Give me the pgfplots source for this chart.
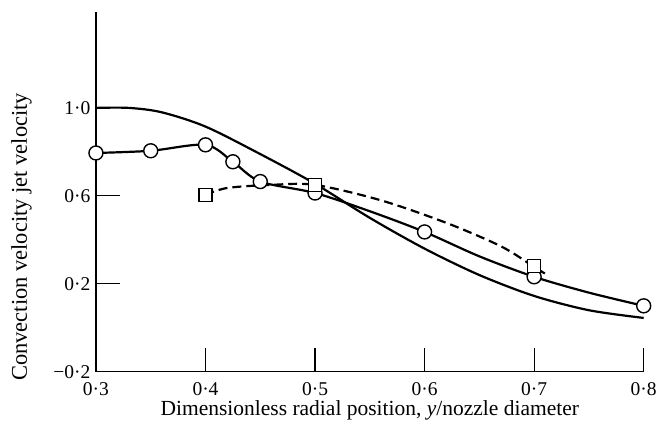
\documentclass[border=0pt]{standalone}
\usepackage{fontspec}
\setmainfont{Liberation Serif}
\usepackage{pgfplots}
\pgfplotsset{compat=1.18}
\begin{document}
\begin{tikzpicture}
\begin{axis}[
  scale only axis, width=548pt, height=360pt,
  xmin=0.3, xmax=0.8, ymin=-0.2, ymax=1.436,
  axis x line=bottom, axis y line=left,
  axis line style={line width=1.3pt, -},
  xtick={0.3,0.4,0.5,0.6,0.7,0.8},
  xticklabels={0·3,0·4,0·5,0·6,0·7,0·8},
  ytick={-0.2,0.2,0.6},
  yticklabels={−0·2,0·2,0·6},
  extra y ticks={1.0}, extra y tick labels={1·0},
  extra y tick style={major tick length=4pt},
  tick align=inside, major tick length=24pt,
  tick style={line width=1.2pt, black},
  xticklabel style={font=\fontsize{19.5}{23}\selectfont, yshift=-7pt},
  yticklabel style={font=\fontsize{19.5}{23}\selectfont, xshift=-2pt},
  xlabel={Dimensionless radial position, \textit{y}/nozzle diameter},
  ylabel={Convection velocity jet velocity},
  xlabel style={font=\fontsize{21.5}{24}\selectfont, at={(axis description cs:0.5,-0.121)}, anchor=base},
  ylabel style={font=\fontsize{22.5}{25}\selectfont, at={(axis description cs:-0.126,0.375)}, anchor=base, rotate=0},
  clip=false,
]
% upper solid curve (no markers)
\addplot[black, line width=2.2pt, smooth, tension=0.5] coordinates {
  (0.3,1.0) (0.33,1.0) (0.36,0.98) (0.4,0.915) (0.45,0.79) (0.5,0.655)
  (0.55,0.5) (0.6,0.36) (0.65,0.24) (0.7,0.145) (0.75,0.08) (0.8,0.045)
};
% circle curve line
\addplot[black, line width=2.2pt, smooth, tension=0.5] coordinates {
  (0.3,0.795) (0.35,0.805) (0.4,0.832) (0.425,0.755) (0.45,0.665)
  (0.5,0.613) (0.55,0.53) (0.6,0.436) (0.65,0.325) (0.7,0.232)
  (0.75,0.16) (0.8,0.1)
};
% dashed curve
\addplot[black, line width=2.2pt, smooth, tension=0.5, dash pattern=on 9pt off 5pt] coordinates {
  (0.4,0.605) (0.42,0.636) (0.46,0.65) (0.5,0.65) (0.56,0.58)
  (0.62,0.477) (0.67,0.37) (0.7,0.277) (0.712,0.24)
};
% circle markers
\addplot[only marks, mark=*, mark size=7pt, mark options={fill=white, draw=black, line width=1.4pt}] coordinates {
  (0.3,0.795) (0.35,0.805) (0.4,0.832) (0.425,0.755) (0.45,0.665)
  (0.5,0.613) (0.6,0.436) (0.7,0.232) (0.8,0.1)
};
% square markers
\addplot[only marks, mark=square*, mark size=6.5pt, mark options={fill=white, draw=black, line width=1.4pt}] coordinates {
  (0.4,0.605) (0.5,0.65) (0.7,0.28)
};
\coordinate (O) at (axis cs:0.3,-0.2);
\end{axis}
\path (O) ++(-96pt,-54pt);
\path (O) ++(564pt,372pt);
\end{tikzpicture}
\end{document}
